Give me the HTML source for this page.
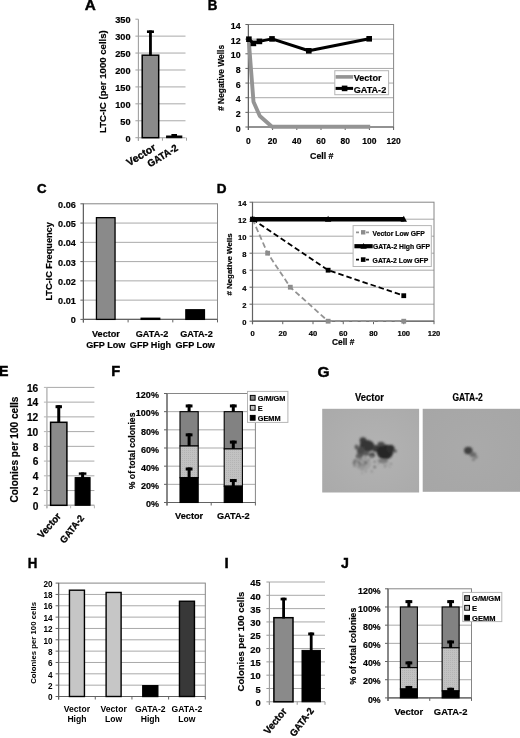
<!DOCTYPE html>
<html><head><meta charset="utf-8"><style>
html,body{margin:0;padding:0;background:#fff;}
body{width:520px;height:738px;overflow:hidden;font-family:"Liberation Sans",sans-serif;}
svg{display:block;filter:grayscale(1);}
text{font-family:"Liberation Sans",sans-serif;font-weight:bold;stroke:#000;stroke-width:0.18px;}
.thin text{stroke-width:0;}
</style></head><body>
<svg width="520" height="738" viewBox="0 0 520 738">
<defs>
<pattern id="dots" width="2" height="2" patternUnits="userSpaceOnUse">
<rect width="2" height="2" fill="#c2c2c2"/><rect width="1" height="1" fill="#b4b4b4"/>
</pattern>
<radialGradient id="gimg1" cx="0.55" cy="0.5" r="0.7">
<stop offset="0" stop-color="#b3b3b3"/><stop offset="1" stop-color="#aaaaaa"/>
</radialGradient>
<radialGradient id="gimg2" cx="0.5" cy="0.5" r="0.7">
<stop offset="0" stop-color="#aaaaaa"/><stop offset="1" stop-color="#a6a6a6"/>
</radialGradient>
<filter id="blur1" x="-50%" y="-50%" width="200%" height="200%"><feGaussianBlur stdDeviation="1.3"/></filter>
<filter id="blur2" x="-50%" y="-50%" width="200%" height="200%"><feGaussianBlur stdDeviation="0.8"/></filter>
</defs>
<rect x="0" y="0" width="520" height="738" fill="#fff"/>
<text font-size="15.3" style="stroke-width:0.45px" transform="translate(84.8 10.3)">A</text>
<line x1="138.4" y1="120.77" x2="185.5" y2="120.77" stroke="#a9a9a9" stroke-width="1" />
<line x1="138.4" y1="103.84" x2="185.5" y2="103.84" stroke="#a9a9a9" stroke-width="1" />
<line x1="138.4" y1="86.91" x2="185.5" y2="86.91" stroke="#a9a9a9" stroke-width="1" />
<line x1="138.4" y1="69.99" x2="185.5" y2="69.99" stroke="#a9a9a9" stroke-width="1" />
<line x1="138.4" y1="53.06" x2="185.5" y2="53.06" stroke="#a9a9a9" stroke-width="1" />
<line x1="138.4" y1="36.13" x2="185.5" y2="36.13" stroke="#a9a9a9" stroke-width="1" />
<line x1="135.4" y1="137.7" x2="138.4" y2="137.7" stroke="#a0a0a0" stroke-width="1" />
<line x1="135.4" y1="120.77" x2="138.4" y2="120.77" stroke="#a0a0a0" stroke-width="1" />
<line x1="135.4" y1="103.84" x2="138.4" y2="103.84" stroke="#a0a0a0" stroke-width="1" />
<line x1="135.4" y1="86.91" x2="138.4" y2="86.91" stroke="#a0a0a0" stroke-width="1" />
<line x1="135.4" y1="69.99" x2="138.4" y2="69.99" stroke="#a0a0a0" stroke-width="1" />
<line x1="135.4" y1="53.06" x2="138.4" y2="53.06" stroke="#a0a0a0" stroke-width="1" />
<line x1="135.4" y1="36.13" x2="138.4" y2="36.13" stroke="#a0a0a0" stroke-width="1" />
<line x1="135.4" y1="19.2" x2="138.4" y2="19.2" stroke="#a0a0a0" stroke-width="1" />
<line x1="138.4" y1="19.2" x2="138.4" y2="140.7" stroke="#a0a0a0" stroke-width="1.1" />
<line x1="138.4" y1="137.7" x2="185.5" y2="137.7" stroke="#a0a0a0" stroke-width="1.1" />
<line x1="138.4" y1="137.7" x2="138.4" y2="140.7" stroke="#a0a0a0" stroke-width="1" />
<line x1="162.45" y1="137.7" x2="162.45" y2="140.7" stroke="#a0a0a0" stroke-width="1" />
<line x1="186.5" y1="137.7" x2="186.5" y2="140.7" stroke="#a0a0a0" stroke-width="1" />
<text x="130.5" y="142.24" font-size="9.2" text-anchor="end" fill="#000">0</text>
<text x="130.5" y="125.19" font-size="9.2" text-anchor="end" fill="#000">50</text>
<text x="130.5" y="108.14" font-size="9.2" text-anchor="end" fill="#000">100</text>
<text x="130.5" y="91.09" font-size="9.2" text-anchor="end" fill="#000">150</text>
<text x="130.5" y="74.05" font-size="9.2" text-anchor="end" fill="#000">200</text>
<text x="130.5" y="57" font-size="9.2" text-anchor="end" fill="#000">250</text>
<text x="130.5" y="39.95" font-size="9.2" text-anchor="end" fill="#000">300</text>
<text x="130.5" y="22.9" font-size="9.2" text-anchor="end" fill="#000">350</text>
<rect x="142.2" y="55.2" width="16.5" height="82.5" fill="#8a8a8a" stroke="#000" stroke-width="1.5" />
<rect x="166.6" y="136" width="15.2" height="1.7" fill="#000" stroke="#000" stroke-width="1" />
<rect x="149.05" y="30.4" width="2.8" height="25.6" fill="#000" />
<rect x="146.95" y="30.4" width="7" height="2.6" fill="#000" />
<rect x="173" y="134" width="2.4" height="2.5" fill="#000" />
<rect x="171.4" y="134" width="5.6" height="2" fill="#000" />
<text font-size="9.6" text-anchor="middle" fill="#000" transform="translate(105.6 81.6) rotate(-90)">LTC-IC (per 1000 cells)</text>
<text font-size="10.5" text-anchor="end" style="stroke-width:0.3px" transform="translate(156.6 149.4) rotate(-32) scale(1 1)">Vector</text>
<text font-size="10" text-anchor="end" style="stroke-width:0.3px" transform="translate(178.8 149.6) rotate(-32) scale(0.95 1)">GATA-2</text>
<text font-size="15.3" style="stroke-width:0.45px" transform="translate(207.8 10.3) scale(0.87 1)">B</text>
<line x1="248.4" y1="112.36" x2="393.6" y2="112.36" stroke="#a9a9a9" stroke-width="1" />
<line x1="248.4" y1="97.71" x2="393.6" y2="97.71" stroke="#a9a9a9" stroke-width="1" />
<line x1="248.4" y1="83.07" x2="393.6" y2="83.07" stroke="#a9a9a9" stroke-width="1" />
<line x1="248.4" y1="68.43" x2="393.6" y2="68.43" stroke="#a9a9a9" stroke-width="1" />
<line x1="248.4" y1="53.79" x2="393.6" y2="53.79" stroke="#a9a9a9" stroke-width="1" />
<line x1="248.4" y1="39.14" x2="393.6" y2="39.14" stroke="#a9a9a9" stroke-width="1" />
<rect x="248.4" y="24.5" width="145.2" height="102.5" fill="none" stroke="#868686" stroke-width="1"/>
<line x1="245.4" y1="127" x2="248.4" y2="127" stroke="#626262" stroke-width="1" />
<line x1="245.4" y1="112.36" x2="248.4" y2="112.36" stroke="#626262" stroke-width="1" />
<line x1="245.4" y1="97.71" x2="248.4" y2="97.71" stroke="#626262" stroke-width="1" />
<line x1="245.4" y1="83.07" x2="248.4" y2="83.07" stroke="#626262" stroke-width="1" />
<line x1="245.4" y1="68.43" x2="248.4" y2="68.43" stroke="#626262" stroke-width="1" />
<line x1="245.4" y1="53.79" x2="248.4" y2="53.79" stroke="#626262" stroke-width="1" />
<line x1="245.4" y1="39.14" x2="248.4" y2="39.14" stroke="#626262" stroke-width="1" />
<line x1="245.4" y1="24.5" x2="248.4" y2="24.5" stroke="#626262" stroke-width="1" />
<line x1="248.4" y1="24.5" x2="248.4" y2="130" stroke="#626262" stroke-width="1.2" />
<line x1="248.4" y1="127" x2="393.6" y2="127" stroke="#626262" stroke-width="1.2" />
<line x1="248.4" y1="127" x2="248.4" y2="130" stroke="#626262" stroke-width="1" />
<line x1="272.6" y1="127" x2="272.6" y2="130" stroke="#626262" stroke-width="1" />
<line x1="296.8" y1="127" x2="296.8" y2="130" stroke="#626262" stroke-width="1" />
<line x1="321" y1="127" x2="321" y2="130" stroke="#626262" stroke-width="1" />
<line x1="345.2" y1="127" x2="345.2" y2="130" stroke="#626262" stroke-width="1" />
<line x1="369.4" y1="127" x2="369.4" y2="130" stroke="#626262" stroke-width="1" />
<line x1="393.6" y1="127" x2="393.6" y2="130" stroke="#626262" stroke-width="1" />
<text x="240.6" y="131.5" font-size="8.8" text-anchor="end" fill="#000">0</text>
<text x="240.6" y="116.86" font-size="8.8" text-anchor="end" fill="#000">2</text>
<text x="240.6" y="102.21" font-size="8.8" text-anchor="end" fill="#000">4</text>
<text x="240.6" y="87.57" font-size="8.8" text-anchor="end" fill="#000">6</text>
<text x="240.6" y="72.93" font-size="8.8" text-anchor="end" fill="#000">8</text>
<text x="240.6" y="58.29" font-size="8.8" text-anchor="end" fill="#000">10</text>
<text x="240.6" y="43.64" font-size="8.8" text-anchor="end" fill="#000">12</text>
<text x="240.6" y="29" font-size="8.8" text-anchor="end" fill="#000">14</text>
<text x="248.4" y="144.4" font-size="8.5" text-anchor="middle" fill="#000">0</text>
<text x="272.6" y="144.4" font-size="8.5" text-anchor="middle" fill="#000">20</text>
<text x="296.8" y="144.4" font-size="8.5" text-anchor="middle" fill="#000">40</text>
<text x="321" y="144.4" font-size="8.5" text-anchor="middle" fill="#000">60</text>
<text x="345.2" y="144.4" font-size="8.5" text-anchor="middle" fill="#000">80</text>
<text x="369.4" y="144.4" font-size="8.5" text-anchor="middle" fill="#000">100</text>
<text x="393.6" y="144.4" font-size="8.5" text-anchor="middle" fill="#000">120</text>
<text font-size="8.4" text-anchor="middle" fill="#000" transform="translate(223.6 77.9) rotate(-90)"># Negative Wells</text>
<text x="321.8" y="159.2" font-size="8.8" text-anchor="middle" fill="#000">Cell #</text>
<polyline points="248.7,39.6 253.5,101.8 259.8,116.0 272.0,126.8 370.2,126.8" fill="none" stroke="#949494" stroke-width="3.9" stroke-linejoin="round"/>
<polyline points="248.9,39.2 253.4,43.4 259.4,41.4 272,38.9 308.8,50.8 369.2,38.8" fill="none" stroke="#000" stroke-width="3" stroke-linejoin="round"/>
<rect x="246.1" y="36.4" width="5.6" height="5.6" fill="#000" />
<rect x="250.6" y="40.6" width="5.6" height="5.6" fill="#000" />
<rect x="256.6" y="38.6" width="5.6" height="5.6" fill="#000" />
<rect x="269.2" y="36.1" width="5.6" height="5.6" fill="#000" />
<rect x="306" y="48" width="5.6" height="5.6" fill="#000" />
<rect x="366.4" y="36" width="5.6" height="5.6" fill="#000" />
<rect x="334.8" y="70.7" width="53.8" height="24" fill="#fff" stroke="#b5b5b5" stroke-width="1" />
<line x1="335.6" y1="76.9" x2="353.1" y2="76.9" stroke="#949494" stroke-width="3.6" />
<text x="353.7" y="80.6" font-size="9.1" fill="#000">Vector</text>
<line x1="335.6" y1="88.4" x2="353.1" y2="88.4" stroke="#000" stroke-width="3" />
<rect x="341.8" y="85.6" width="5.6" height="5.6" fill="#000" />
<text x="353.7" y="92.7" font-size="9.1" fill="#000">GATA-2</text>
<text font-size="13.2" style="stroke-width:0.45px" transform="translate(37.1 193.1)">C</text>
<line x1="83.4" y1="300.13" x2="217.5" y2="300.13" stroke="#a9a9a9" stroke-width="1" />
<line x1="83.4" y1="280.87" x2="217.5" y2="280.87" stroke="#a9a9a9" stroke-width="1" />
<line x1="83.4" y1="261.6" x2="217.5" y2="261.6" stroke="#a9a9a9" stroke-width="1" />
<line x1="83.4" y1="242.33" x2="217.5" y2="242.33" stroke="#a9a9a9" stroke-width="1" />
<line x1="83.4" y1="223.07" x2="217.5" y2="223.07" stroke="#a9a9a9" stroke-width="1" />
<rect x="83.4" y="203.8" width="134.1" height="115.6" fill="none" stroke="#868686" stroke-width="1"/>
<line x1="80.4" y1="319.4" x2="83.4" y2="319.4" stroke="#626262" stroke-width="1" />
<line x1="80.4" y1="300.13" x2="83.4" y2="300.13" stroke="#626262" stroke-width="1" />
<line x1="80.4" y1="280.87" x2="83.4" y2="280.87" stroke="#626262" stroke-width="1" />
<line x1="80.4" y1="261.6" x2="83.4" y2="261.6" stroke="#626262" stroke-width="1" />
<line x1="80.4" y1="242.33" x2="83.4" y2="242.33" stroke="#626262" stroke-width="1" />
<line x1="80.4" y1="223.07" x2="83.4" y2="223.07" stroke="#626262" stroke-width="1" />
<line x1="80.4" y1="203.8" x2="83.4" y2="203.8" stroke="#626262" stroke-width="1" />
<line x1="83.4" y1="203.8" x2="83.4" y2="322.4" stroke="#626262" stroke-width="1.2" />
<line x1="83.4" y1="319.4" x2="217.5" y2="319.4" stroke="#626262" stroke-width="1.2" />
<line x1="83.4" y1="319.4" x2="83.4" y2="322.4" stroke="#626262" stroke-width="1" />
<line x1="128.1" y1="319.4" x2="128.1" y2="322.4" stroke="#626262" stroke-width="1" />
<line x1="172.8" y1="319.4" x2="172.8" y2="322.4" stroke="#626262" stroke-width="1" />
<line x1="217.5" y1="319.4" x2="217.5" y2="322.4" stroke="#626262" stroke-width="1" />
<text x="75.8" y="323.3" font-size="9.1" text-anchor="end" fill="#000">0</text>
<text x="75.8" y="304.03" font-size="9.1" text-anchor="end" fill="#000">0.01</text>
<text x="75.8" y="284.77" font-size="9.1" text-anchor="end" fill="#000">0.02</text>
<text x="75.8" y="265.5" font-size="9.1" text-anchor="end" fill="#000">0.03</text>
<text x="75.8" y="246.23" font-size="9.1" text-anchor="end" fill="#000">0.04</text>
<text x="75.8" y="226.97" font-size="9.1" text-anchor="end" fill="#000">0.05</text>
<text x="75.8" y="207.7" font-size="9.1" text-anchor="end" fill="#000">0.06</text>
<rect x="96.45" y="217.67" width="18.6" height="101.73" fill="#8a8a8a" stroke="#000" stroke-width="1.3" />
<rect x="141.15" y="318.24" width="18.6" height="1.16" fill="#000" stroke="#000" stroke-width="1.3" />
<rect x="185.85" y="309.77" width="18.6" height="9.63" fill="#000" stroke="#000" stroke-width="1.3" />
<text font-size="9.2" text-anchor="middle" fill="#000" transform="translate(51.9 261.4) rotate(-90)">LTC-IC Frequency</text>
<text x="105.95" y="337.3" font-size="9.1" text-anchor="middle" fill="#000">Vector</text>
<text x="105.75" y="348.3" font-size="9.1" text-anchor="middle" fill="#000">GFP Low</text>
<text x="152.05" y="337.3" font-size="9.1" text-anchor="middle" fill="#000">GATA-2</text>
<text x="150.45" y="348.3" font-size="9.1" text-anchor="middle" fill="#000">GFP High</text>
<text x="196.45" y="337.3" font-size="9.1" text-anchor="middle" fill="#000">GATA-2</text>
<text x="195.15" y="348.3" font-size="9.1" text-anchor="middle" fill="#000">GFP Low</text>
<text font-size="13.5" style="stroke-width:0.45px" transform="translate(216.7 193.3)">D</text>
<line x1="252.5" y1="304.2" x2="434" y2="304.2" stroke="#a9a9a9" stroke-width="1" />
<line x1="252.5" y1="287.2" x2="434" y2="287.2" stroke="#a9a9a9" stroke-width="1" />
<line x1="252.5" y1="270.2" x2="434" y2="270.2" stroke="#a9a9a9" stroke-width="1" />
<line x1="252.5" y1="253.2" x2="434" y2="253.2" stroke="#a9a9a9" stroke-width="1" />
<line x1="252.5" y1="236.2" x2="434" y2="236.2" stroke="#a9a9a9" stroke-width="1" />
<line x1="252.5" y1="219.2" x2="434" y2="219.2" stroke="#a9a9a9" stroke-width="1" />
<rect x="252.5" y="202.2" width="181.5" height="119" fill="none" stroke="#868686" stroke-width="1"/>
<line x1="249.5" y1="321.2" x2="252.5" y2="321.2" stroke="#626262" stroke-width="1" />
<line x1="249.5" y1="304.2" x2="252.5" y2="304.2" stroke="#626262" stroke-width="1" />
<line x1="249.5" y1="287.2" x2="252.5" y2="287.2" stroke="#626262" stroke-width="1" />
<line x1="249.5" y1="270.2" x2="252.5" y2="270.2" stroke="#626262" stroke-width="1" />
<line x1="249.5" y1="253.2" x2="252.5" y2="253.2" stroke="#626262" stroke-width="1" />
<line x1="249.5" y1="236.2" x2="252.5" y2="236.2" stroke="#626262" stroke-width="1" />
<line x1="249.5" y1="219.2" x2="252.5" y2="219.2" stroke="#626262" stroke-width="1" />
<line x1="249.5" y1="202.2" x2="252.5" y2="202.2" stroke="#626262" stroke-width="1" />
<line x1="252.5" y1="202.2" x2="252.5" y2="324.2" stroke="#626262" stroke-width="1.2" />
<line x1="252.5" y1="321.2" x2="434" y2="321.2" stroke="#626262" stroke-width="1.2" />
<line x1="252.5" y1="321.2" x2="252.5" y2="324.2" stroke="#626262" stroke-width="1" />
<line x1="282.75" y1="321.2" x2="282.75" y2="324.2" stroke="#626262" stroke-width="1" />
<line x1="313" y1="321.2" x2="313" y2="324.2" stroke="#626262" stroke-width="1" />
<line x1="343.25" y1="321.2" x2="343.25" y2="324.2" stroke="#626262" stroke-width="1" />
<line x1="373.5" y1="321.2" x2="373.5" y2="324.2" stroke="#626262" stroke-width="1" />
<line x1="403.75" y1="321.2" x2="403.75" y2="324.2" stroke="#626262" stroke-width="1" />
<line x1="434" y1="321.2" x2="434" y2="324.2" stroke="#626262" stroke-width="1" />
<text x="246.5" y="325" font-size="7.6" text-anchor="end" fill="#000">0</text>
<text x="246.5" y="308" font-size="7.6" text-anchor="end" fill="#000">2</text>
<text x="246.5" y="291" font-size="7.6" text-anchor="end" fill="#000">4</text>
<text x="246.5" y="274" font-size="7.6" text-anchor="end" fill="#000">6</text>
<text x="246.5" y="257" font-size="7.6" text-anchor="end" fill="#000">8</text>
<text x="246.5" y="240" font-size="7.6" text-anchor="end" fill="#000">10</text>
<text x="246.5" y="223" font-size="7.6" text-anchor="end" fill="#000">12</text>
<text x="246.5" y="206" font-size="7.6" text-anchor="end" fill="#000">14</text>
<text x="252.5" y="336.3" font-size="7.6" text-anchor="middle" fill="#000">0</text>
<text x="282.75" y="336.3" font-size="7.6" text-anchor="middle" fill="#000">20</text>
<text x="313" y="336.3" font-size="7.6" text-anchor="middle" fill="#000">40</text>
<text x="343.25" y="336.3" font-size="7.6" text-anchor="middle" fill="#000">60</text>
<text x="373.5" y="336.3" font-size="7.6" text-anchor="middle" fill="#000">80</text>
<text x="403.75" y="336.3" font-size="7.6" text-anchor="middle" fill="#000">100</text>
<text x="434" y="336.3" font-size="7.6" text-anchor="middle" fill="#000">120</text>
<text font-size="7.9" text-anchor="middle" fill="#000" transform="translate(231.6 264.5) rotate(-90)"># Negative Wells</text>
<text x="343.2" y="345" font-size="8.4" text-anchor="middle" fill="#000">Cell #</text>
<polyline points="252.5,219.2 267.62,253.2 290.31,287.2 328.12,321.2 403.75,321.2" fill="none" stroke="#939393" stroke-width="1.8" stroke-dasharray="5.5,3"/>
<rect x="250.1" y="216.8" width="4.8" height="4.8" fill="#8c8c8c" />
<rect x="265.23" y="250.8" width="4.8" height="4.8" fill="#8c8c8c" />
<rect x="287.91" y="284.8" width="4.8" height="4.8" fill="#8c8c8c" />
<rect x="325.73" y="318.8" width="4.8" height="4.8" fill="#8c8c8c" />
<rect x="401.35" y="318.8" width="4.8" height="4.8" fill="#8c8c8c" />
<polyline points="252.5,219.2 328.12,270.2 403.75,295.7" fill="none" stroke="#000" stroke-width="1.8" stroke-dasharray="5.5,3"/>
<rect x="250.1" y="216.8" width="4.8" height="4.8" fill="#000" />
<rect x="325.73" y="267.8" width="4.8" height="4.8" fill="#000" />
<rect x="401.35" y="293.3" width="4.8" height="4.8" fill="#000" />
<line x1="252.5" y1="219.2" x2="403.75" y2="219.2" stroke="#000" stroke-width="4.4" />
<polygon points="249.3,221.8 255.7,221.8 252.5,215.8" fill="#000"/>
<polygon points="324.93,221.8 331.32,221.8 328.12,215.8" fill="#000"/>
<polygon points="400.55,221.8 406.95,221.8 403.75,215.8" fill="#000"/>
<rect x="353.1" y="225.6" width="78.2" height="40.9" fill="#fff" stroke="#b5b5b5" stroke-width="1" />
<line x1="356" y1="232.3" x2="370" y2="232.3" stroke="#939393" stroke-width="1.8" stroke-dasharray="3,2"/>
<rect x="361" y="230.1" width="4.4" height="4.4" fill="#8c8c8c" />
<text x="372.6" y="235.5" font-size="6.8" fill="#000">Vector Low GFP</text>
<line x1="354.4" y1="246.2" x2="372.7" y2="246.2" stroke="#000" stroke-width="4.2" />
<polygon points="360.4,248.8 366.8,248.8 363.6,243.0" fill="#000"/>
<text x="372.9" y="249.3" font-size="6.8" fill="#000">GATA-2 High GFP</text>
<line x1="356" y1="259.6" x2="370" y2="259.6" stroke="#000" stroke-width="1.8" stroke-dasharray="3,2"/>
<rect x="360.9" y="257.3" width="4.6" height="4.6" fill="#000" />
<text x="372.6" y="262.8" font-size="6.8" fill="#000">GATA-2 Low GFP</text>
<text font-size="14.2" style="stroke-width:0.45px" transform="translate(-1 376.3)">E</text>
<line x1="46.9" y1="490.56" x2="94.4" y2="490.56" stroke="#a9a9a9" stroke-width="1" />
<line x1="46.9" y1="475.82" x2="94.4" y2="475.82" stroke="#a9a9a9" stroke-width="1" />
<line x1="46.9" y1="461.09" x2="94.4" y2="461.09" stroke="#a9a9a9" stroke-width="1" />
<line x1="46.9" y1="446.35" x2="94.4" y2="446.35" stroke="#a9a9a9" stroke-width="1" />
<line x1="46.9" y1="431.61" x2="94.4" y2="431.61" stroke="#a9a9a9" stroke-width="1" />
<line x1="46.9" y1="416.88" x2="94.4" y2="416.88" stroke="#a9a9a9" stroke-width="1" />
<line x1="46.9" y1="402.14" x2="94.4" y2="402.14" stroke="#a9a9a9" stroke-width="1" />
<line x1="46.9" y1="387.4" x2="94.4" y2="387.4" stroke="#a9a9a9" stroke-width="1" />
<line x1="43.9" y1="505.3" x2="46.9" y2="505.3" stroke="#b4b4b4" stroke-width="1" />
<line x1="43.9" y1="490.56" x2="46.9" y2="490.56" stroke="#b4b4b4" stroke-width="1" />
<line x1="43.9" y1="475.82" x2="46.9" y2="475.82" stroke="#b4b4b4" stroke-width="1" />
<line x1="43.9" y1="461.09" x2="46.9" y2="461.09" stroke="#b4b4b4" stroke-width="1" />
<line x1="43.9" y1="446.35" x2="46.9" y2="446.35" stroke="#b4b4b4" stroke-width="1" />
<line x1="43.9" y1="431.61" x2="46.9" y2="431.61" stroke="#b4b4b4" stroke-width="1" />
<line x1="43.9" y1="416.88" x2="46.9" y2="416.88" stroke="#b4b4b4" stroke-width="1" />
<line x1="43.9" y1="402.14" x2="46.9" y2="402.14" stroke="#b4b4b4" stroke-width="1" />
<line x1="43.9" y1="387.4" x2="46.9" y2="387.4" stroke="#b4b4b4" stroke-width="1" />
<line x1="46.9" y1="387.4" x2="46.9" y2="508.3" stroke="#b4b4b4" stroke-width="1.4" />
<line x1="46.9" y1="505.3" x2="94.4" y2="505.3" stroke="#b4b4b4" stroke-width="1.4" />
<line x1="46.9" y1="505.3" x2="46.9" y2="508.3" stroke="#b4b4b4" stroke-width="1" />
<line x1="70.65" y1="505.3" x2="70.65" y2="508.3" stroke="#b4b4b4" stroke-width="1" />
<line x1="94.4" y1="505.3" x2="94.4" y2="508.3" stroke="#b4b4b4" stroke-width="1" />
<text x="38.3" y="509.5" font-size="10.2" text-anchor="end" fill="#000">0</text>
<text x="38.3" y="494.76" font-size="10.2" text-anchor="end" fill="#000">2</text>
<text x="38.3" y="480.02" font-size="10.2" text-anchor="end" fill="#000">4</text>
<text x="38.3" y="465.29" font-size="10.2" text-anchor="end" fill="#000">6</text>
<text x="38.3" y="450.55" font-size="10.2" text-anchor="end" fill="#000">8</text>
<text x="38.3" y="435.81" font-size="10.2" text-anchor="end" fill="#000">10</text>
<text x="38.3" y="421.07" font-size="10.2" text-anchor="end" fill="#000">12</text>
<text x="38.3" y="406.34" font-size="10.2" text-anchor="end" fill="#000">14</text>
<text x="38.3" y="391.6" font-size="10.2" text-anchor="end" fill="#000">16</text>
<rect x="50.6" y="422.3" width="16.3" height="83" fill="#8a8a8a" stroke="#000" stroke-width="1.5" />
<rect x="75.1" y="477.6" width="15" height="27.7" fill="#000" stroke="#000" stroke-width="1" />
<rect x="57.25" y="405.2" width="3" height="17.8" fill="#000" />
<rect x="55.55" y="405.2" width="6.4" height="3" fill="#000" />
<rect x="81.1" y="472.4" width="3" height="5.6" fill="#000" />
<rect x="78.8" y="472.4" width="7.6" height="2.4" fill="#000" />
<text font-size="10.1" text-anchor="middle" fill="#000" transform="translate(17.8 449.6) rotate(-90)">Colonies per 100 cells</text>
<text font-size="10" text-anchor="end" style="stroke-width:0.3px" transform="translate(61.5 516.6) rotate(-49) scale(0.97 1)">Vector</text>
<text font-size="9.6" text-anchor="end" style="stroke-width:0.3px" transform="translate(84.6 518.2) rotate(-52) scale(0.95 1)">GATA-2</text>
<text font-size="14.6" style="stroke-width:0.45px" transform="translate(111.3 375.8)">F</text>
<line x1="167" y1="484.33" x2="255.4" y2="484.33" stroke="#a9a9a9" stroke-width="1" />
<line x1="167" y1="466.17" x2="255.4" y2="466.17" stroke="#a9a9a9" stroke-width="1" />
<line x1="167" y1="448" x2="255.4" y2="448" stroke="#a9a9a9" stroke-width="1" />
<line x1="167" y1="429.83" x2="255.4" y2="429.83" stroke="#a9a9a9" stroke-width="1" />
<line x1="167" y1="411.67" x2="255.4" y2="411.67" stroke="#a9a9a9" stroke-width="1" />
<rect x="167" y="393.5" width="88.4" height="109" fill="none" stroke="#868686" stroke-width="1"/>
<line x1="164" y1="502.5" x2="167" y2="502.5" stroke="#626262" stroke-width="1" />
<line x1="164" y1="484.33" x2="167" y2="484.33" stroke="#626262" stroke-width="1" />
<line x1="164" y1="466.17" x2="167" y2="466.17" stroke="#626262" stroke-width="1" />
<line x1="164" y1="448" x2="167" y2="448" stroke="#626262" stroke-width="1" />
<line x1="164" y1="429.83" x2="167" y2="429.83" stroke="#626262" stroke-width="1" />
<line x1="164" y1="411.67" x2="167" y2="411.67" stroke="#626262" stroke-width="1" />
<line x1="164" y1="393.5" x2="167" y2="393.5" stroke="#626262" stroke-width="1" />
<line x1="167" y1="393.5" x2="167" y2="505.5" stroke="#626262" stroke-width="1.2" />
<line x1="167" y1="502.5" x2="255.4" y2="502.5" stroke="#626262" stroke-width="1.2" />
<line x1="167" y1="502.5" x2="167" y2="505.5" stroke="#626262" stroke-width="1" />
<line x1="211.2" y1="502.5" x2="211.2" y2="505.5" stroke="#626262" stroke-width="1" />
<line x1="255.4" y1="502.5" x2="255.4" y2="505.5" stroke="#626262" stroke-width="1" />
<text x="158.9" y="507.3" font-size="9" text-anchor="end" fill="#000">0%</text>
<text x="158.9" y="489.13" font-size="9" text-anchor="end" fill="#000">20%</text>
<text x="158.9" y="470.97" font-size="9" text-anchor="end" fill="#000">40%</text>
<text x="158.9" y="452.8" font-size="9" text-anchor="end" fill="#000">60%</text>
<text x="158.9" y="434.63" font-size="9" text-anchor="end" fill="#000">80%</text>
<text x="158.9" y="416.47" font-size="9" text-anchor="end" fill="#000">100%</text>
<text x="158.9" y="398.3" font-size="9" text-anchor="end" fill="#000">120%</text>
<rect x="180" y="411.67" width="18.2" height="34.33" fill="#828282" stroke="#000" stroke-width="1.1" />
<rect x="180" y="446" width="18.2" height="31.7" fill="url(#dots)" stroke="#000" stroke-width="1.1" />
<rect x="180" y="477.7" width="18.2" height="24.8" fill="#000" stroke="#000" stroke-width="1.1" />
<rect x="187.6" y="404.46" width="3" height="7.2" fill="#000" />
<rect x="185.7" y="404.46" width="6.8" height="3" fill="#000" />
<rect x="187.6" y="433.35" width="3" height="12.65" fill="#000" />
<rect x="185.7" y="433.35" width="6.8" height="3" fill="#000" />
<rect x="187.6" y="467.5" width="3" height="10.2" fill="#000" />
<rect x="185.7" y="467.5" width="6.8" height="3" fill="#000" />
<text x="189.1" y="518.8" font-size="9.2" text-anchor="middle" fill="#000">Vector</text>
<rect x="224.2" y="411.67" width="18.2" height="37.24" fill="#828282" stroke="#000" stroke-width="1.1" />
<rect x="224.2" y="448.91" width="18.2" height="37.24" fill="url(#dots)" stroke="#000" stroke-width="1.1" />
<rect x="224.2" y="486.15" width="18.2" height="16.35" fill="#000" stroke="#000" stroke-width="1.1" />
<rect x="231.8" y="404.46" width="3" height="7.2" fill="#000" />
<rect x="229.9" y="404.46" width="6.8" height="3" fill="#000" />
<rect x="231.8" y="440.62" width="3" height="8.29" fill="#000" />
<rect x="229.9" y="440.62" width="6.8" height="3" fill="#000" />
<rect x="231.8" y="479.04" width="3" height="7.11" fill="#000" />
<rect x="229.9" y="479.04" width="6.8" height="3" fill="#000" />
<text x="233.3" y="518.8" font-size="9.2" text-anchor="middle" fill="#000">GATA-2</text>
<text font-size="8.7" text-anchor="middle" fill="#000" transform="translate(134.9 450.9) rotate(-90)">% of total colonies</text>
<rect x="247.5" y="391.4" width="40.4" height="31" fill="#fff" stroke="#b5b5b5" stroke-width="1" />
<rect x="250.3" y="395.4" width="4.8" height="4.8" fill="#828282" stroke="#000" stroke-width="1" />
<text x="257.7" y="400.6" font-size="7.35" fill="#000">G/M/GM</text>
<rect x="250.3" y="405.4" width="4.8" height="4.8" fill="url(#dots)" stroke="#000" stroke-width="1" />
<text x="257.7" y="410.6" font-size="7.35" fill="#000">E</text>
<rect x="250.3" y="415.4" width="4.8" height="4.8" fill="#000" stroke="#000" stroke-width="1" />
<text x="257.7" y="420.6" font-size="7.35" fill="#000">GEMM</text>
<text font-size="14.5" style="stroke-width:0.45px" transform="translate(317.5 376.7) scale(1.07 1)">G</text>
<text font-size="10.6" text-anchor="middle" fill="#000" transform="translate(369.5 401.1) scale(0.89 1)">Vector</text>
<text font-size="10.4" text-anchor="middle" fill="#000" transform="translate(467.6 401.2) scale(0.82 1)">GATA-2</text>
<rect x="322.2" y="408.8" width="96.9" height="83.7" fill="url(#gimg1)" />
<rect x="422.7" y="408.8" width="97.3" height="83" fill="url(#gimg2)" />
<g filter="url(#blur1)"><ellipse cx="363" cy="440.5" rx="3.4" ry="3.2" fill="#3c3c3c"/><ellipse cx="367" cy="446" rx="7.5" ry="6" fill="#363636"/><ellipse cx="361" cy="451" rx="4" ry="4.2" fill="#484848"/><ellipse cx="366" cy="453.5" rx="3" ry="2.4" fill="#5a5a5a"/><ellipse cx="372" cy="455" rx="3" ry="2.5" fill="#4a4a4a"/><ellipse cx="376.5" cy="448.5" rx="4.5" ry="3.6" fill="#3a3a3a"/><ellipse cx="385" cy="452" rx="8.2" ry="7.4" fill="#262626"/><ellipse cx="390.5" cy="449" rx="4.2" ry="4.2" fill="#2e2e2e"/><ellipse cx="395" cy="451" rx="2" ry="1.5" fill="#555"/><ellipse cx="381" cy="444" rx="3.5" ry="2.2" fill="#4a4a4a"/><ellipse cx="383" cy="461" rx="5" ry="2.2" fill="#7a7a7a"/><ellipse cx="359.5" cy="456" rx="3.5" ry="2.6" fill="#5a5a5a"/><ellipse cx="356.5" cy="447" rx="2" ry="2.5" fill="#5a5a5a"/></g>
<g filter="url(#blur2)"><ellipse cx="363" cy="464" rx="8" ry="6.5" fill="#9c9c9c" opacity="0.8"/><circle cx="359.8" cy="457.9" r="1.2" fill="#646464"/><circle cx="371.7" cy="456.8" r="1.2" fill="#808080"/><circle cx="357.2" cy="456.6" r="1.0" fill="#6f6f6f"/><circle cx="354.2" cy="463.1" r="1.4" fill="#676767"/><circle cx="374.7" cy="467.0" r="1.2" fill="#636363"/><circle cx="365.9" cy="462.5" r="1.5" fill="#626262"/><circle cx="365.4" cy="457.5" r="1.0" fill="#828282"/><circle cx="354.8" cy="460.9" r="1.4" fill="#6b6b6b"/><circle cx="354.5" cy="465.9" r="0.9" fill="#666666"/><circle cx="365.1" cy="456.2" r="0.7" fill="#6d6d6d"/><circle cx="363.9" cy="465.1" r="1.3" fill="#7d7d7d"/><circle cx="366.1" cy="463.6" r="0.9" fill="#6b6b6b"/><circle cx="368.8" cy="459.6" r="1.2" fill="#818181"/><circle cx="363.9" cy="461.5" r="1.1" fill="#868686"/><circle cx="362.0" cy="469.4" r="0.8" fill="#7f7f7f"/><circle cx="362.1" cy="473.3" r="0.8" fill="#838383"/><circle cx="365.8" cy="471.6" r="1.0" fill="#8c8c8c"/><circle cx="360.4" cy="464.4" r="1.3" fill="#646464"/><circle cx="363.4" cy="467.6" r="0.7" fill="#8c8c8c"/><circle cx="359.4" cy="466.0" r="1.2" fill="#7c7c7c"/><circle cx="358.8" cy="462.3" r="1.2" fill="#616161"/><circle cx="374.6" cy="461.8" r="1.2" fill="#7f7f7f"/><circle cx="355.1" cy="459.7" r="1.0" fill="#7f7f7f"/><circle cx="353.9" cy="463.5" r="1.1" fill="#686868"/><circle cx="371.7" cy="471.4" r="0.9" fill="#7a7a7a"/><circle cx="361.1" cy="459.4" r="0.8" fill="#696969"/><circle cx="357.6" cy="459.4" r="1.1" fill="#858585"/><circle cx="356.4" cy="460.4" r="0.8" fill="#828282"/><circle cx="360.9" cy="465.8" r="1.5" fill="#8c8c8c"/><circle cx="386.8" cy="464.9" r="0.8" fill="#898989"/><circle cx="383.0" cy="462.2" r="0.8" fill="#898989"/><circle cx="377.9" cy="459.5" r="0.6" fill="#7a7a7a"/><circle cx="378.6" cy="463.8" r="0.6" fill="#797979"/><circle cx="385.0" cy="466.6" r="0.9" fill="#747474"/><circle cx="390.1" cy="463.9" r="0.6" fill="#808080"/><circle cx="391.3" cy="463.8" r="0.8" fill="#777777"/><circle cx="389.7" cy="466.9" r="0.8" fill="#8e8e8e"/><circle cx="381.7" cy="460.2" r="0.9" fill="#808080"/><circle cx="384.2" cy="464.5" r="0.8" fill="#7d7d7d"/></g>
<g filter="url(#blur1)"><ellipse cx="468.3" cy="450.6" rx="4.3" ry="3.8" fill="#404040"/><ellipse cx="473" cy="454.5" rx="3.4" ry="2.6" fill="#6a6a6a"/><ellipse cx="476" cy="457" rx="2" ry="1.6" fill="#7a7a7a"/><ellipse cx="473.5" cy="459.5" rx="1.8" ry="1.6" fill="#808080"/></g>
<g class="thin">
<text font-size="15.5" style="stroke-width:0.45px" transform="translate(27.8 568.4) scale(0.86 1)">H</text>
<line x1="58.6" y1="685.16" x2="205.3" y2="685.16" stroke="#a9a9a9" stroke-width="1" />
<line x1="58.6" y1="673.82" x2="205.3" y2="673.82" stroke="#a9a9a9" stroke-width="1" />
<line x1="58.6" y1="662.48" x2="205.3" y2="662.48" stroke="#a9a9a9" stroke-width="1" />
<line x1="58.6" y1="651.14" x2="205.3" y2="651.14" stroke="#a9a9a9" stroke-width="1" />
<line x1="58.6" y1="639.8" x2="205.3" y2="639.8" stroke="#a9a9a9" stroke-width="1" />
<line x1="58.6" y1="628.46" x2="205.3" y2="628.46" stroke="#a9a9a9" stroke-width="1" />
<line x1="58.6" y1="617.12" x2="205.3" y2="617.12" stroke="#a9a9a9" stroke-width="1" />
<line x1="58.6" y1="605.78" x2="205.3" y2="605.78" stroke="#a9a9a9" stroke-width="1" />
<line x1="58.6" y1="594.44" x2="205.3" y2="594.44" stroke="#a9a9a9" stroke-width="1" />
<rect x="58.6" y="583.1" width="146.7" height="113.4" fill="none" stroke="#868686" stroke-width="1"/>
<line x1="55.6" y1="696.5" x2="58.6" y2="696.5" stroke="#626262" stroke-width="1" />
<line x1="55.6" y1="685.16" x2="58.6" y2="685.16" stroke="#626262" stroke-width="1" />
<line x1="55.6" y1="673.82" x2="58.6" y2="673.82" stroke="#626262" stroke-width="1" />
<line x1="55.6" y1="662.48" x2="58.6" y2="662.48" stroke="#626262" stroke-width="1" />
<line x1="55.6" y1="651.14" x2="58.6" y2="651.14" stroke="#626262" stroke-width="1" />
<line x1="55.6" y1="639.8" x2="58.6" y2="639.8" stroke="#626262" stroke-width="1" />
<line x1="55.6" y1="628.46" x2="58.6" y2="628.46" stroke="#626262" stroke-width="1" />
<line x1="55.6" y1="617.12" x2="58.6" y2="617.12" stroke="#626262" stroke-width="1" />
<line x1="55.6" y1="605.78" x2="58.6" y2="605.78" stroke="#626262" stroke-width="1" />
<line x1="55.6" y1="594.44" x2="58.6" y2="594.44" stroke="#626262" stroke-width="1" />
<line x1="55.6" y1="583.1" x2="58.6" y2="583.1" stroke="#626262" stroke-width="1" />
<line x1="58.6" y1="583.1" x2="58.6" y2="699.5" stroke="#626262" stroke-width="1.2" />
<line x1="58.6" y1="696.5" x2="205.3" y2="696.5" stroke="#626262" stroke-width="1.2" />
<line x1="58.6" y1="696.5" x2="58.6" y2="699.5" stroke="#626262" stroke-width="1" />
<line x1="95.28" y1="696.5" x2="95.28" y2="699.5" stroke="#626262" stroke-width="1" />
<line x1="131.95" y1="696.5" x2="131.95" y2="699.5" stroke="#626262" stroke-width="1" />
<line x1="168.62" y1="696.5" x2="168.62" y2="699.5" stroke="#626262" stroke-width="1" />
<line x1="205.3" y1="696.5" x2="205.3" y2="699.5" stroke="#626262" stroke-width="1" />
<text x="52.6" y="700.2" font-size="8.2" text-anchor="end" fill="#000">0</text>
<text x="52.6" y="688.86" font-size="8.2" text-anchor="end" fill="#000">2</text>
<text x="52.6" y="677.52" font-size="8.2" text-anchor="end" fill="#000">4</text>
<text x="52.6" y="666.18" font-size="8.2" text-anchor="end" fill="#000">6</text>
<text x="52.6" y="654.84" font-size="8.2" text-anchor="end" fill="#000">8</text>
<text x="52.6" y="643.5" font-size="8.2" text-anchor="end" fill="#000">10</text>
<text x="52.6" y="632.16" font-size="8.2" text-anchor="end" fill="#000">12</text>
<text x="52.6" y="620.82" font-size="8.2" text-anchor="end" fill="#000">14</text>
<text x="52.6" y="609.48" font-size="8.2" text-anchor="end" fill="#000">16</text>
<text x="52.6" y="598.14" font-size="8.2" text-anchor="end" fill="#000">18</text>
<text x="52.6" y="586.8" font-size="8.2" text-anchor="end" fill="#000">20</text>
<rect x="69.44" y="590.19" width="15" height="106.31" fill="#c6c6c6" stroke="#000" stroke-width="1.4" />
<rect x="106.11" y="592.46" width="15" height="104.04" fill="#c6c6c6" stroke="#000" stroke-width="1.4" />
<rect x="142.79" y="685.73" width="15" height="10.77" fill="#000" stroke="#000" stroke-width="1.4" />
<rect x="179.46" y="601.24" width="15" height="95.26" fill="#383838" stroke="#000" stroke-width="1.4" />
<text font-size="7.8" text-anchor="middle" fill="#000" transform="translate(36.4 642.9) rotate(-90)">Colonies per 100 cells</text>
<text x="76.94" y="712.3" font-size="8.6" text-anchor="middle" fill="#000">Vector</text>
<text x="76.94" y="722.4" font-size="8.6" text-anchor="middle" fill="#000">High</text>
<text x="113.61" y="712.3" font-size="8.6" text-anchor="middle" fill="#000">Vector</text>
<text x="113.61" y="722.4" font-size="8.6" text-anchor="middle" fill="#000">Low</text>
<text x="150.29" y="712.3" font-size="8.6" text-anchor="middle" fill="#000">GATA-2</text>
<text x="150.29" y="722.4" font-size="8.6" text-anchor="middle" fill="#000">High</text>
<text x="186.96" y="712.3" font-size="8.6" text-anchor="middle" fill="#000">GATA-2</text>
<text x="186.96" y="722.4" font-size="8.6" text-anchor="middle" fill="#000">Low</text>
</g>
<text font-size="15" style="stroke-width:0.45px" transform="translate(224.5 568.3)">I</text>
<line x1="269.4" y1="688.49" x2="325" y2="688.49" stroke="#a9a9a9" stroke-width="1" />
<line x1="269.4" y1="675.18" x2="325" y2="675.18" stroke="#a9a9a9" stroke-width="1" />
<line x1="269.4" y1="661.87" x2="325" y2="661.87" stroke="#a9a9a9" stroke-width="1" />
<line x1="269.4" y1="648.56" x2="325" y2="648.56" stroke="#a9a9a9" stroke-width="1" />
<line x1="269.4" y1="635.24" x2="325" y2="635.24" stroke="#a9a9a9" stroke-width="1" />
<line x1="269.4" y1="621.93" x2="325" y2="621.93" stroke="#a9a9a9" stroke-width="1" />
<line x1="269.4" y1="608.62" x2="325" y2="608.62" stroke="#a9a9a9" stroke-width="1" />
<line x1="269.4" y1="595.31" x2="325" y2="595.31" stroke="#a9a9a9" stroke-width="1" />
<line x1="269.4" y1="582" x2="325" y2="582" stroke="#a9a9a9" stroke-width="1" />
<line x1="266.4" y1="701.8" x2="269.4" y2="701.8" stroke="#9a9a9a" stroke-width="1" />
<line x1="266.4" y1="688.49" x2="269.4" y2="688.49" stroke="#9a9a9a" stroke-width="1" />
<line x1="266.4" y1="675.18" x2="269.4" y2="675.18" stroke="#9a9a9a" stroke-width="1" />
<line x1="266.4" y1="661.87" x2="269.4" y2="661.87" stroke="#9a9a9a" stroke-width="1" />
<line x1="266.4" y1="648.56" x2="269.4" y2="648.56" stroke="#9a9a9a" stroke-width="1" />
<line x1="266.4" y1="635.24" x2="269.4" y2="635.24" stroke="#9a9a9a" stroke-width="1" />
<line x1="266.4" y1="621.93" x2="269.4" y2="621.93" stroke="#9a9a9a" stroke-width="1" />
<line x1="266.4" y1="608.62" x2="269.4" y2="608.62" stroke="#9a9a9a" stroke-width="1" />
<line x1="266.4" y1="595.31" x2="269.4" y2="595.31" stroke="#9a9a9a" stroke-width="1" />
<line x1="266.4" y1="582" x2="269.4" y2="582" stroke="#9a9a9a" stroke-width="1" />
<line x1="269.4" y1="582" x2="269.4" y2="704.8" stroke="#9a9a9a" stroke-width="1.1" />
<line x1="269.4" y1="701.8" x2="325" y2="701.8" stroke="#9a9a9a" stroke-width="1.1" />
<line x1="269.4" y1="701.8" x2="269.4" y2="704.8" stroke="#9a9a9a" stroke-width="1" />
<line x1="297.2" y1="701.8" x2="297.2" y2="704.8" stroke="#9a9a9a" stroke-width="1" />
<line x1="325" y1="701.8" x2="325" y2="704.8" stroke="#9a9a9a" stroke-width="1" />
<text x="260.8" y="706" font-size="9.4" text-anchor="end" fill="#000">0</text>
<text x="260.8" y="692.69" font-size="9.4" text-anchor="end" fill="#000">5</text>
<text x="260.8" y="679.38" font-size="9.4" text-anchor="end" fill="#000">10</text>
<text x="260.8" y="666.07" font-size="9.4" text-anchor="end" fill="#000">15</text>
<text x="260.8" y="652.76" font-size="9.4" text-anchor="end" fill="#000">20</text>
<text x="260.8" y="639.44" font-size="9.4" text-anchor="end" fill="#000">25</text>
<text x="260.8" y="626.13" font-size="9.4" text-anchor="end" fill="#000">30</text>
<text x="260.8" y="612.82" font-size="9.4" text-anchor="end" fill="#000">35</text>
<text x="260.8" y="599.51" font-size="9.4" text-anchor="end" fill="#000">40</text>
<text x="260.8" y="586.2" font-size="9.4" text-anchor="end" fill="#000">45</text>
<rect x="273.9" y="617.7" width="19.1" height="84.1" fill="#8a8a8a" stroke="#000" stroke-width="1.5" />
<rect x="302" y="650.4" width="18.4" height="51.4" fill="#000" stroke="#000" stroke-width="1" />
<rect x="282.2" y="597.7" width="2.8" height="20.8" fill="#000" />
<rect x="280.6" y="597.7" width="6" height="2.7" fill="#000" />
<rect x="309.8" y="632.5" width="2.8" height="18.5" fill="#000" />
<rect x="308.2" y="632.5" width="6" height="2.8" fill="#000" />
<text font-size="9.5" text-anchor="middle" fill="#000" transform="translate(244.2 641.5) rotate(-90)">Colonies per 100 cells</text>
<text font-size="10.2" text-anchor="end" style="stroke-width:0.3px" transform="translate(287.4 711.6) rotate(-51) scale(0.97 1)">Vector</text>
<text font-size="9.7" text-anchor="end" style="stroke-width:0.3px" transform="translate(314.3 711) rotate(-53) scale(0.95 1)">GATA-2</text>
<text font-size="15.3" style="stroke-width:0.45px" transform="translate(341 568.4) scale(0.93 1)">J</text>
<line x1="388" y1="679.72" x2="471.5" y2="679.72" stroke="#a9a9a9" stroke-width="1" />
<line x1="388" y1="661.53" x2="471.5" y2="661.53" stroke="#a9a9a9" stroke-width="1" />
<line x1="388" y1="643.35" x2="471.5" y2="643.35" stroke="#a9a9a9" stroke-width="1" />
<line x1="388" y1="625.17" x2="471.5" y2="625.17" stroke="#a9a9a9" stroke-width="1" />
<line x1="388" y1="606.98" x2="471.5" y2="606.98" stroke="#a9a9a9" stroke-width="1" />
<rect x="388" y="588.8" width="83.5" height="109.1" fill="none" stroke="#868686" stroke-width="1"/>
<line x1="385" y1="697.9" x2="388" y2="697.9" stroke="#626262" stroke-width="1" />
<line x1="385" y1="679.72" x2="388" y2="679.72" stroke="#626262" stroke-width="1" />
<line x1="385" y1="661.53" x2="388" y2="661.53" stroke="#626262" stroke-width="1" />
<line x1="385" y1="643.35" x2="388" y2="643.35" stroke="#626262" stroke-width="1" />
<line x1="385" y1="625.17" x2="388" y2="625.17" stroke="#626262" stroke-width="1" />
<line x1="385" y1="606.98" x2="388" y2="606.98" stroke="#626262" stroke-width="1" />
<line x1="385" y1="588.8" x2="388" y2="588.8" stroke="#626262" stroke-width="1" />
<line x1="388" y1="588.8" x2="388" y2="700.9" stroke="#626262" stroke-width="1.2" />
<line x1="388" y1="697.9" x2="471.5" y2="697.9" stroke="#626262" stroke-width="1.2" />
<line x1="388" y1="697.9" x2="388" y2="700.9" stroke="#626262" stroke-width="1" />
<line x1="429.75" y1="697.9" x2="429.75" y2="700.9" stroke="#626262" stroke-width="1" />
<line x1="471.5" y1="697.9" x2="471.5" y2="700.9" stroke="#626262" stroke-width="1" />
<text x="380.6" y="702.6" font-size="8.8" text-anchor="end" fill="#000">0%</text>
<text x="380.6" y="684.42" font-size="8.8" text-anchor="end" fill="#000">20%</text>
<text x="380.6" y="666.23" font-size="8.8" text-anchor="end" fill="#000">40%</text>
<text x="380.6" y="648.05" font-size="8.8" text-anchor="end" fill="#000">60%</text>
<text x="380.6" y="629.87" font-size="8.8" text-anchor="end" fill="#000">80%</text>
<text x="380.6" y="611.68" font-size="8.8" text-anchor="end" fill="#000">100%</text>
<text x="380.6" y="593.5" font-size="8.8" text-anchor="end" fill="#000">120%</text>
<rect x="400.38" y="606.98" width="17" height="60.64" fill="#828282" stroke="#000" stroke-width="1.1" />
<rect x="400.38" y="667.62" width="17" height="21.37" fill="url(#dots)" stroke="#000" stroke-width="1.1" />
<rect x="400.38" y="688.99" width="17" height="8.91" fill="#000" stroke="#000" stroke-width="1.1" />
<rect x="407.38" y="600.14" width="3" height="6.85" fill="#000" />
<rect x="405.48" y="600.14" width="6.8" height="3" fill="#000" />
<rect x="407.38" y="661.42" width="3" height="6.21" fill="#000" />
<rect x="405.48" y="661.42" width="6.8" height="3" fill="#000" />
<rect x="407.38" y="685.96" width="3" height="3.03" fill="#000" />
<rect x="405.48" y="685.96" width="6.8" height="3" fill="#000" />
<text x="408.88" y="715.3" font-size="9.4" text-anchor="middle" fill="#000">Vector</text>
<rect x="442.12" y="606.98" width="17" height="40.82" fill="#828282" stroke="#000" stroke-width="1.1" />
<rect x="442.12" y="647.8" width="17" height="43.09" fill="url(#dots)" stroke="#000" stroke-width="1.1" />
<rect x="442.12" y="690.9" width="17" height="7" fill="#000" stroke="#000" stroke-width="1.1" />
<rect x="449.12" y="600.14" width="3" height="6.85" fill="#000" />
<rect x="447.23" y="600.14" width="6.8" height="3" fill="#000" />
<rect x="449.12" y="640.5" width="3" height="7.3" fill="#000" />
<rect x="447.23" y="640.5" width="6.8" height="3" fill="#000" />
<rect x="449.12" y="687.78" width="3" height="3.12" fill="#000" />
<rect x="447.23" y="687.78" width="6.8" height="3" fill="#000" />
<text x="450.62" y="715.3" font-size="9.4" text-anchor="middle" fill="#000">GATA-2</text>
<text font-size="8.7" text-anchor="middle" fill="#000" transform="translate(356.4 646.1) rotate(-90)">% of total colonies</text>
<rect x="462.8" y="592.4" width="39" height="29.2" fill="#fff" stroke="#b5b5b5" stroke-width="1" />
<rect x="464.7" y="595.7" width="4.8" height="4.8" fill="#828282" stroke="#000" stroke-width="1" />
<text x="472.1" y="600.9" font-size="7.5" fill="#000">G/M/GM</text>
<rect x="464.7" y="605.4" width="4.8" height="4.8" fill="url(#dots)" stroke="#000" stroke-width="1" />
<text x="472.1" y="610.6" font-size="7.5" fill="#000">E</text>
<rect x="464.7" y="615.4" width="4.8" height="4.8" fill="#000" stroke="#000" stroke-width="1" />
<text x="472.1" y="620.6" font-size="7.5" fill="#000">GEMM</text>
</svg>
</body></html>
